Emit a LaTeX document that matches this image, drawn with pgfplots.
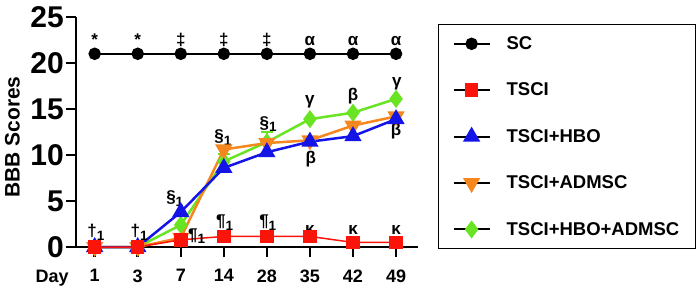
\documentclass[border=0pt]{standalone}
\usepackage{pgfplots}
\pgfplotsset{compat=1.18}
\usepackage{fontspec}
\setmainfont{Liberation Sans}
\definecolor{cred}{RGB}{250,20,10}
\definecolor{cblue}{RGB}{20,20,230}
\definecolor{corange}{RGB}{245,135,30}
\definecolor{cgreen}{RGB}{105,228,35}
\newcommand{\sub}[1]{\raisebox{-3.5pt}{\fontsize{13.5}{13.5}\selectfont #1}}
\begin{document}
\begin{tikzpicture}
\useasboundingbox (0,0) rectangle (700pt,293pt);
\begin{axis}[
  at={(76pt,46pt)}, anchor=south west,
  scale only axis, width=342pt, height=230pt,
  xmin=-0.434, xmax=7.51, ymin=0, ymax=25,
  axis lines=left, axis line style={-, line width=2.5pt},
  clip=false,
  xtick={0,...,7}, xticklabels={1,3,7,14,28,35,42,49},
  ytick={0,5,...,25},
  tick align=outside, major tick length=10pt,
  tick style={line width=2.5pt, black},
  minor tick num=0,
  /pgf/number format/assume math mode=true,
  yticklabel style={font=\fontsize{30}{30}\selectfont\bfseries, inner sep=2pt},
  xticklabel style={font=\fontsize{18}{18}\selectfont\bfseries, yshift=-9pt},
  ylabel={BBB Scores},
  every axis y label/.style={at={(axis description cs:-0.186,0.478)}, rotate=90, anchor=center, font=\fontsize{21}{21}\selectfont\bfseries},
  reverse legend,
  legend image code/.code={
    \draw[black, line width=2pt] (0pt,0pt) -- (36pt,0pt);
    \draw[#1] plot coordinates {(18pt,0pt)};
  },
  legend cell align=left,
  legend style={at={(1.0585,0.9696)}, anchor=north west, draw=black, line width=1.2pt,
    font=\fontsize{18.5}{18.5}\selectfont\bfseries, inner xsep=14pt, inner ysep=10pt,
    row sep=28pt, /tikz/every odd column/.append style={column sep=14pt}},
]
% error bars for green (drawn first)
\addplot[forget plot, cgreen, draw=none, mark=none, line width=2.2pt,
  error bars/.cd, y dir=plus, y explicit,
  error bar style={line width=2.2pt, cgreen},
  error mark options={rotate=90, mark size=6pt, line width=2.2pt, cgreen}]
  coordinates {(3,9.3) +- (0,0.8) (4,11.4) +- (0,1.1)};
\addplot[cgreen, line width=2.5pt, mark=diamond*, mark size=7pt, mark options={solid, fill=cgreen}]
  coordinates {(0,0) (1,0) (2,2.4) (3,9.3) (4,11.4) (5,13.9) (6,14.6) (7,16.1)};
\addlegendentry{TSCI+HBO+ADMSC}
\addplot[corange, line width=2.5pt, mark=triangle*, mark size=7.5pt, mark options={solid, rotate=180, fill=corange}]
  coordinates {(0,0) (1,0) (2,1.0) (3,10.6) (4,11.3) (5,11.6) (6,13.2) (7,14.2)};
\addlegendentry{TSCI+ADMSC}
\addplot[cblue, line width=2.5pt, mark=triangle*, mark size=7.5pt, mark options={solid, fill=cblue}]
  coordinates {(0,0) (1,0) (2,3.8) (3,8.6) (4,10.3) (5,11.45) (6,12.05) (7,13.9)};
\addlegendentry{TSCI+HBO}
\addplot[cred, line width=1.5pt, mark=square*, mark size=6pt, mark options={solid, fill=cred}]
  coordinates {(0,0) (1,0) (2,0.78) (3,1.15) (4,1.15) (5,1.15) (6,0.5) (7,0.5)};
\addlegendentry{TSCI}
\addplot[black, line width=1.5pt, mark=*, mark size=5.5pt, mark options={solid, fill=black}]
  coordinates {(0,21) (1,21) (2,21) (3,21) (4,21) (5,21) (6,21) (7,21)};
\addlegendentry{SC}

\begin{scope}[every node/.style={font=\fontsize{17}{17}\selectfont\bfseries, anchor=base, inner sep=0pt}]
\node at (axis cs:0,21.85) {*};
\node at (axis cs:1,21.85) {*};
\node at (axis cs:2,21.85) {‡};
\node at (axis cs:3,21.85) {‡};
\node at (axis cs:4,21.85) {‡};
\node at (axis cs:5,21.85) {α};
\node at (axis cs:6,21.85) {α};
\node at (axis cs:7,21.85) {α};
\node at (axis cs:0.03,1.1) {†\sub{1}};
\node at (axis cs:1.03,1.1) {†\sub{1}};
\node at (axis cs:1.86,4.8) {§\sub{1}};
\node at (axis cs:2.98,11.45) {§\sub{1}};
\node at (axis cs:4.03,12.9) {§\sub{1}};
\node at (axis cs:2.37,0.76) {¶\sub{1}};
\node at (axis cs:3.02,2.2) {¶\sub{1}};
\node at (axis cs:4.02,2.2) {¶\sub{1}};
\node at (axis cs:5,15.5) {γ};
\node at (axis cs:7.02,17.5) {γ};
\node at (axis cs:5.02,9.1) {β};
\node at (axis cs:6,15.9) {β};
\node at (axis cs:7,12.1) {β};
\node at (axis cs:5,1.4) {κ};
\node at (axis cs:6,1.4) {κ};
\node at (axis cs:7,1.4) {κ};
\end{scope}
\node[font=\fontsize{18}{18}\selectfont\bfseries, anchor=base] at ([yshift=-35pt]axis cs:-0.99,0) {Day};
\end{axis}
\end{tikzpicture}
\end{document}
